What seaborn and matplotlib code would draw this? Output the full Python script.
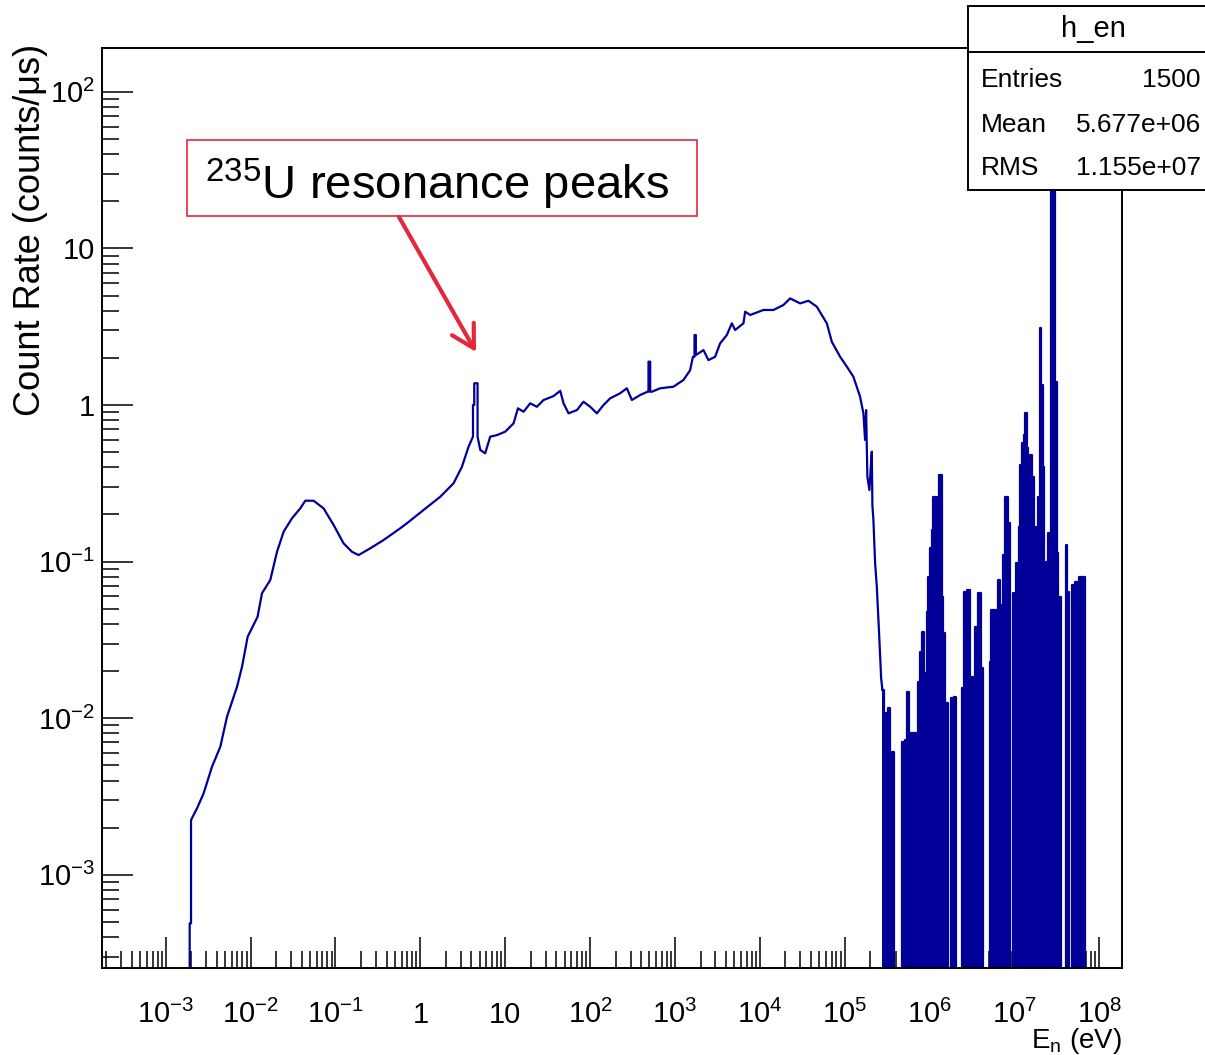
import numpy as np
import pandas as pd
import seaborn as sns
import matplotlib
matplotlib.use("Agg")
import matplotlib.pyplot as plt
from matplotlib.patches import Rectangle, FancyArrowPatch
from matplotlib.lines import Line2D
from matplotlib.ticker import FixedLocator, LogLocator, FuncFormatter, NullFormatter

# ==============================================================================
# DATA (log10 E_n [eV], log10 count rate [counts/us])
# ==============================================================================
# thermal bump -> resonance region -> fast fall-off (drawn as a polyline)
cont_log_e = [
    -2.718, -2.718, -2.702, -2.702, -2.631, -2.554, -2.455, -2.357, -2.278, -2.160,
    -2.101, -2.035, -1.918, -1.866, -1.768, -1.689, -1.611, -1.512, -1.415, -1.356,
    -1.258, -1.140, -1.022, -0.905, -0.806, -0.728, -0.590, -0.433, -0.237, -0.158,
    0.038, 0.234, 0.391, 0.490, 0.568, 0.620, 0.620, 0.635, 0.635, 0.674,
    0.674, 0.706, 0.764, 0.823, 0.902, 1.000, 1.098, 1.150, 1.216, 1.294,
    1.373, 1.451, 1.569, 1.648, 1.687, 1.746, 1.845, 1.922, 2.001, 2.080,
    2.158, 2.237, 2.354, 2.433, 2.492, 2.590, 2.676, 2.688, 2.688, 2.708,
    2.708, 2.728, 2.826, 2.982, 3.100, 3.179, 3.211, 3.230, 3.230, 3.246,
    3.246, 3.336, 3.394, 3.473, 3.532, 3.611, 3.670, 3.709, 3.807, 3.827,
    3.886, 4.042, 4.160, 4.278, 4.357, 4.475, 4.572, 4.671, 4.789, 4.848,
    4.946, 5.025, 5.102, 5.181, 5.220, 5.240, 5.252, 5.267, 5.291, 5.305,
    5.319, 5.326, 5.338, 5.358, 5.378, 5.405, 5.429, 5.444,
]
cont_log_rate = [
    np.nan, -3.310, -3.310, -2.650, -2.575, -2.480, -2.310, -2.182, -1.990, -1.799,
    -1.671, -1.480, -1.352, -1.202, -1.117, -0.937, -0.809, -0.723, -0.660, -0.611,
    -0.611, -0.660, -0.766, -0.883, -0.937, -0.958, -0.915, -0.862, -0.787, -0.755,
    -0.670, -0.586, -0.500, -0.394, -0.266, -0.202, 0.000, 0.000, 0.139, 0.139,
    -0.202, -0.287, -0.308, -0.202, -0.192, -0.170, -0.117, -0.021, -0.043, 0.011,
    -0.011, 0.032, 0.057, 0.091, 0.011, -0.053, -0.032, 0.021, -0.011, -0.053,
    0.000, 0.043, 0.075, 0.107, 0.032, 0.064, 0.085, 0.085, 0.277, 0.277,
    0.085, 0.085, 0.107, 0.117, 0.160, 0.223, 0.308, 0.308, 0.447, 0.447,
    0.319, 0.351, 0.287, 0.308, 0.394, 0.447, 0.522, 0.479, 0.522, 0.596,
    0.575, 0.607, 0.607, 0.639, 0.681, 0.649, 0.666, 0.628, 0.522, 0.404,
    0.308, 0.245, 0.181, 0.053, -0.053, -0.223, -0.032, -0.458, -0.543, -0.415,
    -0.298, -0.639, -0.734, -1.009, -1.160, -1.458, -1.743, -1.820,
]

# low-statistics fast region, histogram bins (left edges); nan = empty bin
bin_log_e = [
    5.444, 5.458, 5.484, 5.508, 5.532, 5.585, 5.673, 5.708, 5.738, 5.762,
    5.837, 5.861, 5.885, 5.908, 5.932, 5.950, 5.967, 5.986, 6.006, 6.026,
    6.045, 6.092, 6.115, 6.144, 6.163, 6.179, 6.221, 6.250, 6.289, 6.316,
    6.379, 6.403, 6.422, 6.445, 6.473, 6.509, 6.539, 6.575, 6.603, 6.627,
    6.709, 6.728, 6.810, 6.827, 6.869, 6.893, 6.928, 6.945, 6.980, 6.999,
    7.022, 7.051, 7.066, 7.089, 7.110, 7.128, 7.145, 7.164, 7.187, 7.204,
    7.215, 7.234, 7.254, 7.281, 7.301, 7.317, 7.333, 7.352, 7.376, 7.399,
    7.428, 7.446, 7.463, 7.482, 7.498, 7.517, 7.549, 7.604, 7.619, 7.640,
    7.682, 7.717, 7.757, 7.835, 8.267,
]
bin_log_rate = [
    -1.820, -2.286, -1.967, -1.935, -2.216, np.nan, -2.150, -2.139, -1.831, -2.096,
    np.nan, -1.767, -1.575, -1.448, -2.033, -1.713, -1.320, -1.096, -0.915, -0.798,
    -0.586, -0.888, -0.447, -1.224, -1.458, -1.905, np.nan, -1.873, -1.863, np.nan,
    -1.809, -1.192, -1.490, -1.181, -1.735, np.nan, -1.416, -1.202, -1.681, np.nan,
    -1.639, -1.309, -1.117, -1.277, -0.958, -0.586, -0.755, np.nan, -1.202, np.nan,
    -1.011, -0.777, -0.383, -0.245, -0.192, -0.053, -0.276, -0.458, -0.319, -1.405,
    -0.458, -0.777, -1.054, -0.586, 0.490, 0.128, -0.394, -1.341, -1.001, -0.819,
    1.692, -1.341, 1.692, 0.149, -0.947, -1.224, np.nan, -0.894, -1.192, np.nan,
    -1.149, -1.128, -1.096, np.nan, np.nan,
]

stats_title = "h_en"
stats_labels = ["Entries", "Mean", "RMS"]
stats_values = ["1500", "5.677e+06", "1.155e+07"]

x_decades = list(range(-3, 9))
y_decades = list(range(-3, 3))

assert len(cont_log_e) == len(cont_log_rate)
assert len(bin_log_e) == len(bin_log_rate)

# ==============================================================================
# STYLE
# ==============================================================================
W, H = 1205, 1055
LINE_BLUE = "#000099"
ARROW_RED = "#e4283c"
FLOOR = 1e-6   # empty bins are drawn down below the axis, ROOT style

sns.set_theme(style="ticks")
plt.rcParams["font.family"] = ["Liberation Sans", "DejaVu Sans"]
plt.rcParams.update({
    "mathtext.default": "regular",
    "axes.edgecolor": "black",
    "axes.labelcolor": "black",
    "text.color": "black",
    "xtick.color": "black",
    "ytick.color": "black",
    "axes.linewidth": 1.4,
})


def fx(px):
    return px / W


def fy(py):
    return 1 - py / H


def to_rate(log_vals):
    return np.nan_to_num(10.0 ** np.asarray(log_vals, dtype=float), nan=FLOOR)


cont_df = pd.DataFrame({"energy": 10.0 ** np.asarray(cont_log_e), "rate": to_rate(cont_log_rate)})
bin_df = pd.DataFrame({"energy": 10.0 ** np.asarray(bin_log_e), "rate": to_rate(bin_log_rate)})

# ==============================================================================
# PLOT
# ==============================================================================
fig = plt.figure(figsize=(W / 100, H / 100), dpi=100)
ax = fig.add_axes([fx(102), fy(968), fx(1122) - fx(102), fy(48) - fy(968)])

sns.lineplot(data=cont_df, x="energy", y="rate", estimator=None, sort=False,
             color=LINE_BLUE, lw=1.6, ax=ax)
sns.lineplot(data=bin_df, x="energy", y="rate", estimator=None, sort=False,
             drawstyle="steps-post", color=LINE_BLUE, lw=1.6, ax=ax)
ax.fill_between(bin_df["energy"], bin_df["rate"], FLOOR, step="post",
                color=LINE_BLUE, lw=0)

ax.set_xscale("log")
ax.set_yscale("log")
ax.set_xlim(10 ** -3.751, 10 ** 8.267)
ax.set_ylim(10 ** -3.595, 10 ** 2.280)


def decade_label(v, pos):
    k = int(round(np.log10(v)))
    if k == 0:
        return "1"
    if k == 1:
        return "10"
    return r"$10^{%d}$" % k


for axis, decs in ((ax.xaxis, x_decades), (ax.yaxis, y_decades)):
    axis.set_major_locator(FixedLocator([10.0 ** k for k in decs]))
    axis.set_minor_locator(LogLocator(base=10, subs=np.arange(2, 10), numticks=200))
    axis.set_major_formatter(FuncFormatter(decade_label))
    axis.set_minor_formatter(NullFormatter())

ax.tick_params(which="both", direction="in", top=False, right=False, width=1.1)
ax.tick_params(which="major", length=22)
ax.tick_params(which="minor", length=12)
ax.tick_params(axis="x", which="major", pad=39.5, labelsize=21)
ax.tick_params(axis="y", which="major", pad=5, labelsize=21)
plt.setp(ax.get_xticklabels(), va="baseline")

for sp in ax.spines.values():
    sp.set_visible(True)
    sp.set_color("black")
    sp.set_linewidth(1.4)

ax.set_ylabel("Count Rate (counts/μs)", loc="top", fontsize=26)
ax.yaxis.set_label_coords(-0.053, 1.004)
ax.set_xlabel(r"E$_{n}$ (eV)", loc="right", fontsize=20, va="baseline")
ax.xaxis.set_label_coords(1.0, -(1048 - 968) / 920)

# stats box (runs off the right edge like the original screenshot)
fig.add_artist(Rectangle((fx(968), fy(190)), fx(1218) - fx(968), fy(6) - fy(190),
                         transform=fig.transFigure, facecolor="white",
                         edgecolor="black", lw=1.4, zorder=10))
fig.add_artist(Line2D([fx(968), fx(1218)], [fy(52), fy(52)],
                      transform=fig.transFigure, color="black", lw=1.4, zorder=11))
fig.text(fx(1093), fy(29), stats_title, ha="center", va="center", fontsize=21, zorder=12)
for row_y, lab, val in zip([80, 125, 168], stats_labels, stats_values):
    fig.text(fx(981), fy(row_y), lab, ha="left", va="center", fontsize=19, zorder=12)
    fig.text(fx(1201), fy(row_y), val, ha="right", va="center", fontsize=19, zorder=12)

# annotation box + arrow
fig.add_artist(Rectangle((fx(187), fy(216)), fx(697) - fx(187), fy(140) - fy(216),
                         transform=fig.transFigure, facecolor="white",
                         edgecolor=ARROW_RED, lw=1.2, zorder=10))
fig.text(fx(205), fy(199), r"$^{235}$U resonance peaks", ha="left", va="baseline",
         fontsize=34, zorder=11)
fig.add_artist(FancyArrowPatch((fx(399), fy(217)), (fx(476), fy(352)),
                               transform=fig.transFigure,
                               arrowstyle="->,head_length=0.8,head_width=0.45",
                               mutation_scale=20, lw=3, color=ARROW_RED,
                               shrinkA=0, shrinkB=0, zorder=10))

fig.savefig("out.png", dpi=100, facecolor="white")
plt.close(fig)
